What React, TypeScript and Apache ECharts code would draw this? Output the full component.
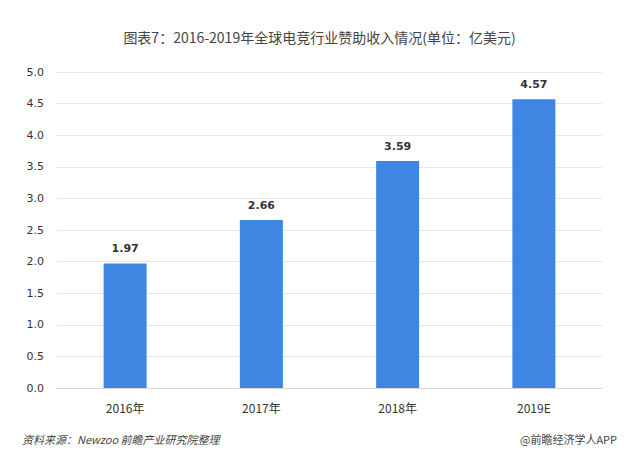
import React, { useEffect, useRef } from "react";
import * as echarts from "echarts";

const categories = ["2016年", "2017年", "2018年", "2019E"];
const values = [1.97, 2.66, 3.59, 4.57];
const titleText = "图表7：2016-2019年全球电竞行业赞助收入情况(单位：亿美元)";
const sourceText = "资料来源：Newzoo 前瞻产业研究院整理";
const brandText = "@前瞻经济学人APP";

export default function App() {
  const ref = useRef<HTMLDivElement>(null);
  useEffect(() => {
    if (!ref.current) return;
    const chart = echarts.init(ref.current, null, { renderer: "svg" });
    chart.setOption({
      animation: false,
      backgroundColor: "#ffffff",
      title: {
        text: titleText,
        left: "center",
        top: 25,
        textStyle: {
          fontSize: 14,
          fontWeight: "normal",
          color: "#444",
          fontFamily: "Noto Sans CJK SC",
        },
      },
      grid: { left: 57, right: 37, top: 72, bottom: 72 },
      xAxis: {
        type: "category",
        data: categories,
        axisLine: { show: true, lineStyle: { color: "#d9d9d9" } },
        axisTick: { show: false },
        axisLabel: {
          margin: 13,
          fontSize: 12,
          color: "#333",
          fontFamily: "Noto Sans CJK SC",
        },
      },
      yAxis: {
        type: "value",
        min: 0,
        max: 5,
        interval: 0.5,
        axisLine: { show: false },
        axisTick: { show: false },
        splitLine: { lineStyle: { color: "#e6e6e6" } },
        axisLabel: {
          margin: 13,
          fontSize: 11,
          color: "#333",
          fontFamily: "DejaVu Sans",
          formatter: (v: number) => v.toFixed(1),
        },
      },
      series: [
        {
          type: "bar",
          data: values,
          barWidth: 43,
          itemStyle: { color: "#3f86e3" },
          label: {
            show: true,
            position: "top",
            distance: 9,
            fontSize: 11,
            fontWeight: 600,
            color: "#333",
            fontFamily: "DejaVu Sans",
            formatter: (p: any) => p.value.toFixed(2),
          },
        },
      ],
      graphic: [
        {
          type: "text",
          left: 22,
          top: 433,
          style: {
            text: sourceText,
            fontSize: 11,
            fontStyle: "italic",
            fill: "#444",
            fontFamily: "Noto Sans CJK SC",
          },
        },
        {
          type: "text",
          right: 22,
          top: 433,
          style: {
            text: brandText,
            fontSize: 11,
            fill: "#444",
            fontFamily: "Noto Sans CJK SC",
          },
        },
      ],
    });
    return () => chart.dispose();
  }, []);
  return (
    <div
      ref={ref}
      style={{ position: "fixed", left: 0, top: 0, width: 639, height: 460 }}
    />
  );
}
